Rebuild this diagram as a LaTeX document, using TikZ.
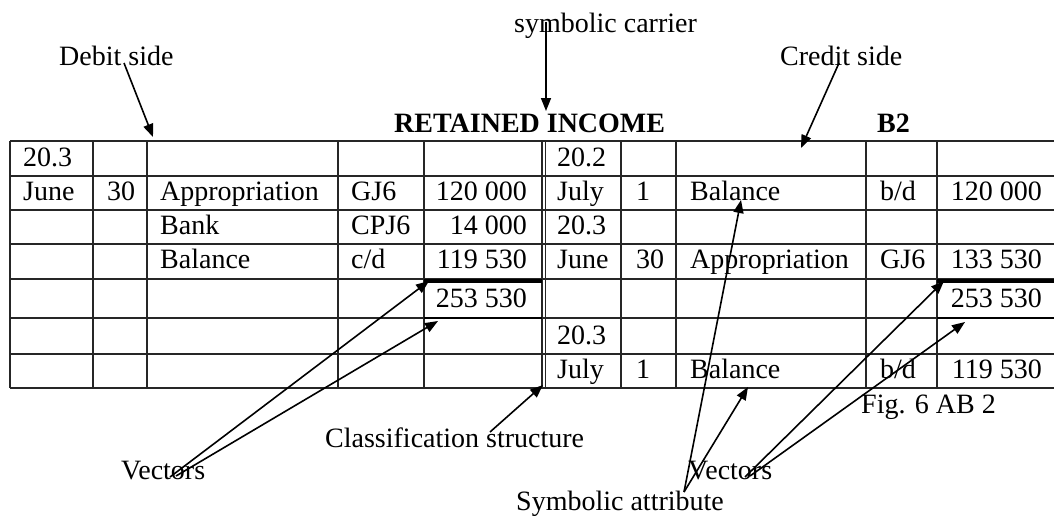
\documentclass[tikz,border=0pt]{standalone}
\usepackage{fontspec}
\setmainfont{Liberation Serif}
\usetikzlibrary{arrows.meta}
\tikzset{
  rule/.style={line width=1.2pt, black!85},
  heavyrule/.style={line width=4pt, black},
  midrule/.style={line width=2pt, black},
  cell/.style={anchor=base west, inner sep=0pt},
  amount/.style={anchor=base east, inner sep=0pt},
  lbl/.style={anchor=base west, inner sep=0pt},
  pointer/.style={line width=1.6pt, -{Triangle[length=13pt,width=10pt]}}
}
\begin{document}
\begin{tikzpicture}[x=1pt, y=-1pt, font=\fontsize{28}{34}\selectfont]
\useasboundingbox (0,0) rectangle (1054,515);

% ---- ledger grid ----
\foreach \yy in {141,176,210,244,279,318,354,388}
  \draw[rule] (10,\yy) -- (1054,\yy);
\foreach \xx in {10,93,147,338,424,542,545.5,621,676,866,937}
  \draw[rule] (\xx,141) -- (\xx,388);
% totals rulings
\draw[heavyrule] (424,280.5) -- (542,280.5);
\draw[heavyrule] (937,280.5) -- (1054,280.5);
\draw[midrule] (424,318) -- (542,318);
\draw[midrule] (937,318) -- (1054,318);

% ---- headings ----
\node[lbl, font=\fontsize{28}{34}\selectfont\bfseries] (title) at (394,132) {RETAINED INCOME};
\node[lbl, font=\fontsize{28}{34}\selectfont\bfseries] (folio) at (877,132) {B2};

% ---- debit side ----
\node[cell] (d11) at (23,166) {20.3};
\node[cell] (d21) at (23,200) {June};
\node[cell] (d22) at (107,200) {30};
\node[cell] (d23) at (160,200) {Appropriation};
\node[cell] (d24) at (351,200) {GJ6};
\node[amount] (d25) at (527,200) {120 000};
\node[cell] (d33) at (160,234) {Bank};
\node[cell] (d34) at (351,234) {CPJ6};
\node[amount] (d35) at (527,234) {14 000};
\node[cell] (d43) at (160,268) {Balance};
\node[cell] (d44) at (351,268) {c/d};
\node[amount] (d45) at (527,268) {119 530};
\node[amount] (d55) at (527,307) {253 530};

% ---- credit side ----
\node[cell] (c11) at (557,166) {20.2};
\node[cell] (c21) at (557,200) {July};
\node[cell] (c22) at (636,200) {1};
\node[cell] (c23) at (690,200) {Balance};
\node[cell] (c24) at (880,200) {b/d};
\node[amount] (c25) at (1042,200) {120 000};
\node[cell] (c31) at (557,234) {20.3};
\node[cell] (c41) at (557,268) {June};
\node[cell] (c42) at (636,268) {30};
\node[cell] (c43) at (690,268) {Appropriation};
\node[cell] (c44) at (880,268) {GJ6};
\node[amount] (c45) at (1042,268) {133 530};
\node[amount] (c55) at (1042,307) {253 530};
\node[cell] (c61) at (557,344) {20.3};
\node[cell] (c71) at (557,378) {July};
\node[cell] (c72) at (636,378) {1};
\node[cell] (c73) at (690,378) {Balance};
\node[cell] (c74) at (880,378) {b/d};
\node[amount] (c75) at (1042,378) {119 530};

% ---- annotations ----
\node[lbl] (carrier) at (514,32) {symbolic carrier};
\node[lbl] (debit) at (59,65) {Debit side};
\node[lbl] (credit) at (780,65) {Credit side};
\node[lbl] (fig) at (861,413) {Fig. 6 AB 2};
\node[lbl] (classif) at (325,447) {Classification structure};
\node[lbl] (vecL) at (121,479) {Vectors};
\node[lbl] (vecR) at (688,479) {Vectors};
\node[lbl] (attr) at (516,510) {Symbolic attribute};

% line ends inside the labels
\coordinate (debitS) at (124,63);
\coordinate (carrierS) at (546,22);
\coordinate (creditS) at (839,63);
\coordinate (vecLa) at (170,477);
\coordinate (vecLb) at (176,476);
\coordinate (classifS) at (490,432);
\coordinate (attrS) at (684,492);
\coordinate (vecRa) at (745,477);
\coordinate (vecRb) at (750,476);

% targets in the ledger
\coordinate (debitT) at (153,137);
\coordinate (carrierT) at (546,111);
\coordinate (creditT) at (801,148);
\coordinate (totLa) at (429,281);
\coordinate (totLb) at (438,321);
\coordinate (splitT) at (543,385);
\coordinate (balTop) at (741,200);
\coordinate (balBot) at (748,387);
\coordinate (totRa) at (944,281);
\coordinate (totRb) at (965,322);

\draw[pointer] (debitS) -- (debitT);
\draw[pointer] (carrierS) -- (carrierT);
\draw[pointer] (creditS) -- (creditT);
\draw[pointer] (vecLa) -- (totLa);
\draw[pointer] (vecLb) -- (totLb);
\draw[pointer] (classifS) -- (splitT);
\draw[pointer] (attrS) -- (balTop);
\draw[pointer] (attrS) -- (balBot);
\draw[pointer] (vecRa) -- (totRa);
\draw[pointer] (vecRb) -- (totRb);
\end{tikzpicture}
\end{document}
